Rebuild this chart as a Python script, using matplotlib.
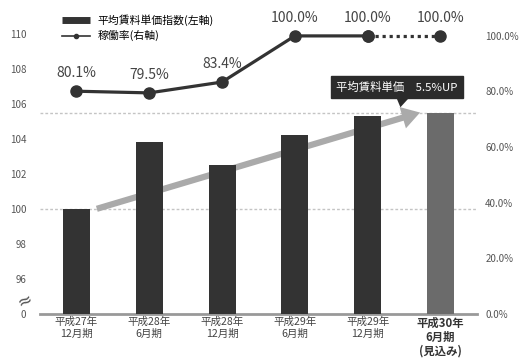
import matplotlib
matplotlib.use("Agg")
import matplotlib.pyplot as plt
from matplotlib.lines import Line2D
from matplotlib.patches import Polygon

plt.rcParams["font.family"] = ["Noto Sans CJK JP", "DejaVu Sans"]

# data
periods = ["平成27年\n12月期", "平成28年\n6月期", "平成28年\n12月期",
           "平成29年\n6月期", "平成29年\n12月期", "平成30年\n6月期\n(見込み)"]
rent_index = [100.0, 103.8, 102.5, 104.2, 105.3, 105.5]
occupancy = [80.1, 79.5, 83.4, 100.0, 100.0, 100.0]
left_ticks = [94, 96, 98, 100, 102, 104, 106, 108, 110]
left_ticklabels = ["0", "96", "98", "100", "102", "104", "106", "108", "110"]
right_ticks = [0, 20, 40, 60, 80, 100]
callout_text = "平均賃料単価　5.5%UP"

fig = plt.figure(figsize=(5.2, 3.62), dpi=100)
ax = fig.add_axes([0.077, 0.133, 0.840, 0.840])
ax2 = ax.twinx()

x = list(range(len(periods)))
bar_colors = ["#333333"] * 5 + ["#6b6b6b"]
ax.bar(x, rent_index, width=0.37, color=bar_colors, zorder=3)
ax.set_xlim(-0.5, 5.5)
ax.set_ylim(94, 111.37)
ax.set_yticks(left_ticks)
ax.set_yticklabels(left_ticklabels)
ax.set_xticks(x)
ax.set_xticklabels(periods, fontsize=7.6, color="#444444", linespacing=1.2)
lbl = ax.get_xticklabels()[-1]
lbl.set_fontweight("bold")
lbl.set_fontsize(8.2)
lbl.set_linespacing(1.1)
lbl.set_color("#333333")
ax.tick_params(axis="y", length=0, pad=10, labelsize=7, labelcolor="#555555")
ax.tick_params(axis="x", length=0, pad=2)
for s in ["top", "left", "right"]:
    ax.spines[s].set_visible(False)
ax.spines["bottom"].set_color("#999999")
ax.spines["bottom"].set_linewidth(2)

# dotted guide lines at base and forecast level
ax.axhline(rent_index[0], color="#c4c4c4", lw=1, ls=(0, (2, 1.5)), zorder=1)
ax.axhline(rent_index[-1], color="#c4c4c4", lw=1, ls=(0, (2, 1.5)), zorder=1)

# axis break mark
ax.text(-0.035, 94.7, "≈", transform=ax.get_yaxis_transform(), ha="center",
        va="center", fontsize=13, color="#555555", rotation=25,
        family="DejaVu Sans", clip_on=False)

# trend arrow behind bars
ax.annotate("", xy=(4.72, rent_index[-1]), xytext=(0.28, rent_index[0]),
            arrowprops=dict(arrowstyle="simple,head_length=1.3,head_width=1.6,tail_width=0.45",
                            color="#aaaaaa", lw=0, shrinkA=0, shrinkB=0),
            zorder=2)

# callout box
ax.text(4.40, 106.95, callout_text, ha="center", va="center", fontsize=8.2,
        color="white", zorder=6,
        bbox=dict(boxstyle="square,pad=0.45", fc="#2b2b2b", ec="#2b2b2b"))
ax.add_patch(Polygon([(4.40, 106.3), (4.56, 106.3), (4.45, 105.8)],
                     closed=True, fc="#2b2b2b", ec="none", zorder=6))

# occupancy line on right axis
ax2.plot(x[:5], occupancy[:5], color="#333333", lw=2.3, marker="o",
         markersize=8, zorder=5)
ax2.plot(x[4:], occupancy[4:], color="#333333", lw=2.3, ls=(0, (1, 1.2)),
         marker="o", markersize=8, zorder=5)
for xi, v in zip(x, occupancy):
    ax2.annotate(f"{v:.1f}%", (xi, v), xytext=(0, 8), textcoords="offset points",
                 ha="center", va="bottom", fontsize=10, color="#444444")
ax2.set_ylim(0, 109.4)
ax2.set_yticks(right_ticks)
ax2.set_yticklabels([f"{t:.1f}%" for t in right_ticks])
ax2.tick_params(axis="y", length=0, pad=6, labelsize=7, labelcolor="#555555")
for s in ["top", "left", "right", "bottom"]:
    ax2.spines[s].set_visible(False)

# legend
handles = [
    Line2D([], [], color="#333333", lw=5, solid_capstyle="butt"),
    Line2D([], [], color="#333333", lw=1.2, marker="o", markersize=3),
]
ax2.legend(handles, ["平均賃料単価指数(左軸)", "稼働率(右軸)"], loc="upper left",
           bbox_to_anchor=(0.05, 0.985), frameon=False, fontsize=7.8,
           handlelength=2.6, handletextpad=0.7, labelspacing=0.4,
           borderpad=0, borderaxespad=0)

fig.savefig("out.png", dpi=100)
